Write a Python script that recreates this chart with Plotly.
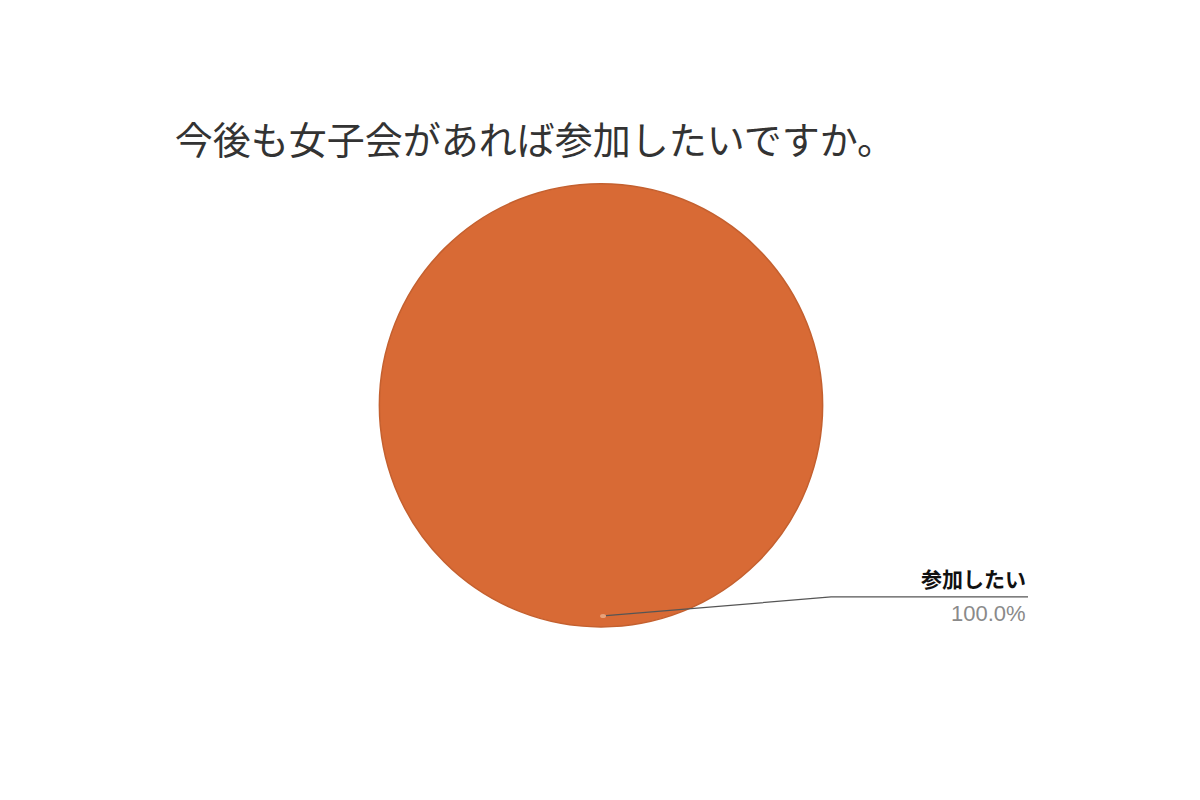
import plotly.graph_objects as go

title = "今後も女子会があれば参加したいですか。"
labels = ["参加したい"]
values = [100]
colors = ["#D86A35"]

total = sum(values)
pcts = ["{:.1f}%".format(v / total * 100) for v in values]

fig = go.Figure()
fig.add_trace(go.Pie(
    labels=labels,
    values=values,
    marker=dict(colors=colors, line=dict(color="#C4602F", width=1.5)),
    textinfo="none",
    sort=False,
    direction="clockwise",
    showlegend=False,
    domain=dict(x=[0.3092, 0.6792], y=[0.2263, 0.7803]),
))

# leader line from the pie bottom out to the label
fig.add_shape(type="path", xref="paper", yref="paper",
              path="M 0.4959 0.2401 L 0.6859 0.2638 L 0.8500 0.2638",
              line=dict(color="#555555", width=1.2))
fig.add_shape(type="circle", xref="paper", yref="paper",
              x0=0.4934, y0=0.2376, x1=0.4984, y1=0.2426,
              fillcolor="#E8A27A", line=dict(width=0))

fig.add_annotation(text="<b>" + labels[0] + "</b>", xref="paper", yref="paper",
                   x=0.8500, y=0.2663, xanchor="right", yanchor="bottom",
                   showarrow=False,
                   font=dict(family="Noto Sans CJK JP", size=21, color="#111111"))
fig.add_annotation(text=pcts[0], xref="paper", yref="paper",
                   x=0.8500, y=0.2613, xanchor="right", yanchor="top",
                   showarrow=False,
                   font=dict(family="Liberation Sans", size=22, color="#8A8A8A"))

fig.update_layout(
    title=dict(text=title, x=0.139, xanchor="left", y=0.834, yanchor="middle",
               font=dict(family="Noto Sans CJK JP", size=38, color="#333333")),
    width=1200, height=800,
    margin=dict(l=0, r=0, t=0, b=0),
    paper_bgcolor="white",
    plot_bgcolor="white",
)

fig.write_html("out.html")
